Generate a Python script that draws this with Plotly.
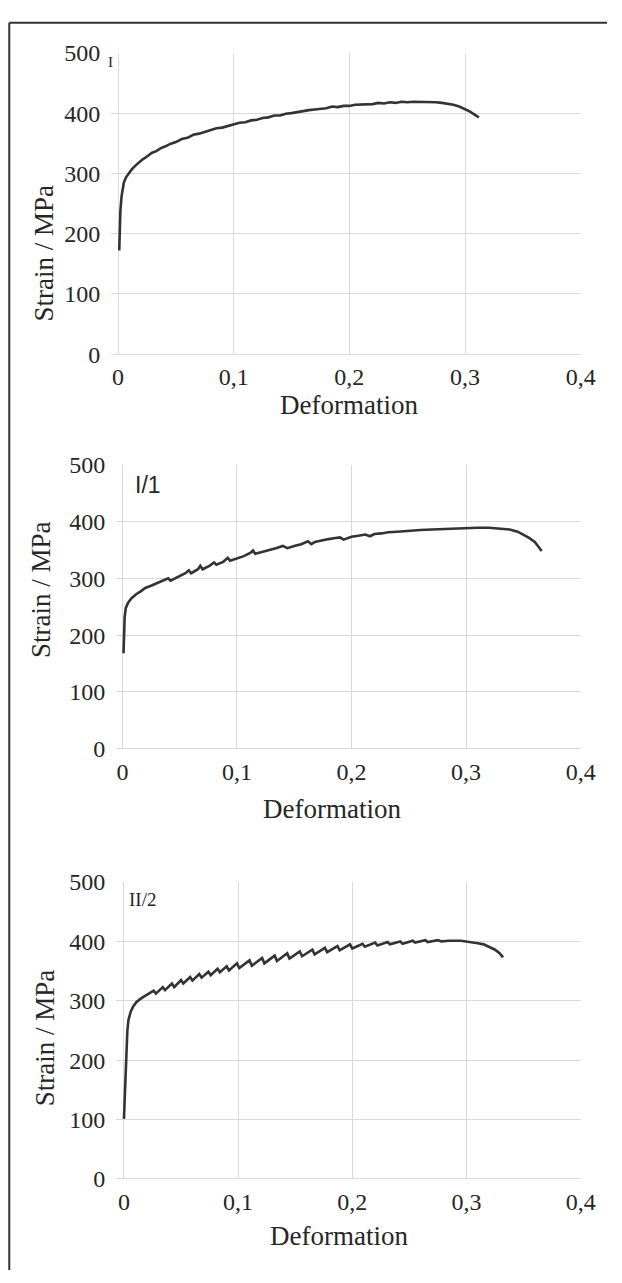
import plotly.graph_objects as go

W, H = 622, 1283

# ---------------- data ----------------
x_tick_vals = [0, 0.1, 0.2, 0.3, 0.4]
x_tick_text = ["0", "0,1", "0,2", "0,3", "0,4"]
y_tick_vals = [0, 100, 200, 300, 400, 500]

# Panel I
def_I = [0.001, 0.0015, 0.002, 0.003, 0.004, 0.005, 0.007, 0.009, 0.012, 0.015, 0.018, 0.021,
         0.025, 0.029, 0.033, 0.037, 0.041, 0.045, 0.050, 0.055, 0.060, 0.065, 0.070, 0.075,
         0.080, 0.085, 0.090, 0.095, 0.100, 0.105, 0.110, 0.115, 0.120, 0.125, 0.130, 0.135,
         0.140, 0.145, 0.150, 0.155, 0.160, 0.165, 0.170, 0.175, 0.180, 0.185, 0.190, 0.195,
         0.200, 0.205, 0.210, 0.215, 0.220, 0.225, 0.230, 0.235, 0.240, 0.245, 0.250, 0.255,
         0.260, 0.265, 0.270, 0.275, 0.280, 0.285, 0.290, 0.295, 0.300, 0.304, 0.308, 0.312]
str_I = [172, 205, 238, 262, 276, 285, 294, 300, 307, 313, 318, 323,
         328, 334, 337, 342, 345, 349, 352, 357, 359, 364, 366, 369,
         371, 375, 376, 379, 381, 384, 385, 388, 389, 392, 393, 396,
         396, 399, 400, 402, 403, 405, 406, 407, 408, 411, 410, 412,
         412, 414, 414, 415, 415, 417, 416, 418, 417, 419, 418, 419,
         419, 419, 418, 418, 417, 416, 414, 411, 407, 403, 398, 393]

# Panel I/1
def_I1 = [0.001, 0.0015, 0.002, 0.003, 0.005, 0.008, 0.012, 0.016, 0.020, 0.025, 0.030, 0.035,
          0.040, 0.042, 0.048, 0.055, 0.058, 0.060, 0.066, 0.068, 0.070, 0.076, 0.080, 0.082,
          0.088, 0.092, 0.094, 0.100, 0.106, 0.112, 0.114, 0.116, 0.122, 0.128, 0.134, 0.140,
          0.144, 0.150, 0.156, 0.162, 0.165, 0.168, 0.174, 0.180, 0.186, 0.190, 0.193, 0.200,
          0.206, 0.212, 0.216, 0.220, 0.226, 0.232, 0.240, 0.250, 0.260, 0.270, 0.280, 0.290,
          0.300, 0.310, 0.320, 0.330, 0.338, 0.345, 0.350, 0.355, 0.360, 0.363, 0.366]
str_I1 = [168, 200, 232, 248, 257, 265, 272, 277, 283, 287, 291, 295,
          300, 296, 302, 309, 314, 309, 316, 322, 316, 322, 328, 324,
          329, 336, 331, 335, 339, 345, 349, 343, 346, 350, 353, 357,
          353, 357, 360, 365, 360, 364, 367, 369, 371, 372, 368, 373,
          375, 377, 374, 378, 379, 381, 382, 384, 385, 386, 387, 388,
          389, 389, 389, 388, 386, 382, 377, 371, 364, 357, 348]

# Panel II/2
def_II2 = [0.000, 0.001, 0.002, 0.003, 0.004, 0.006, 0.008, 0.011, 0.015, 0.020,
           0.026, 0.028, 0.034, 0.036, 0.042, 0.044, 0.050, 0.052, 0.058, 0.060,
           0.066, 0.068, 0.074, 0.076, 0.082, 0.084, 0.090, 0.092, 0.099, 0.101,
           0.110, 0.112, 0.121, 0.123, 0.132, 0.134, 0.143, 0.145, 0.154, 0.156,
           0.165, 0.167, 0.176, 0.178, 0.187, 0.189, 0.198, 0.200, 0.209, 0.211,
           0.220, 0.222, 0.231, 0.233, 0.242, 0.244, 0.253, 0.255, 0.264, 0.266,
           0.275, 0.278, 0.285, 0.295, 0.300, 0.305, 0.310, 0.315, 0.320, 0.325,
           0.329, 0.332]
str_II2 = [101, 150, 210, 250, 268, 282, 290, 298, 304, 310,
           317, 312, 323, 318, 329, 323, 335, 329, 340, 334,
           345, 339, 349, 343, 354, 348, 358, 351, 363, 355,
           368, 359, 372, 363, 376, 367, 380, 371, 383, 375,
           386, 378, 389, 382, 392, 385, 395, 388, 396, 391,
           398, 393, 399, 395, 400, 396, 401, 398, 402, 399,
           402, 400, 401, 401, 400, 399, 397, 395, 391, 386,
           380, 373]

panels = [
    dict(x=def_I, y=str_I, label="I"),
    dict(x=def_I1, y=str_I1, label="I/1"),
    dict(x=def_II2, y=str_II2, label="II/2"),
]

# ---------------- layout helpers (pixel geometry) ----------------
def px_x(p):
    return p / W

def px_y(p):
    return 1 - p / H

geom = [
    dict(left=113.9, x0=121.0, right=595.0, top=40.7, bottom=348.3),
    dict(left=119.0, x0=125.4, right=595.0, top=461.0, bottom=751.0),
    dict(left=119.0, x0=127.0, right=595.0, top=887.0, bottom=1190.0),
]

GRID = "#d9d9d9"
TXT = "#262626"
SERIF = "Liberation Serif"

fig = go.Figure()
layout = dict(
    width=W, height=H,
    margin=dict(l=0, r=0, t=0, b=0),
    paper_bgcolor="white", plot_bgcolor="white",
    showlegend=False,
    annotations=[], shapes=[],
)

for i, (p, g) in enumerate(zip(panels, geom)):
    n = "" if i == 0 else str(i + 1)
    xa, ya = "x" + n, "y" + n
    fig.add_trace(go.Scatter(x=p["x"], y=p["y"], mode="lines",
                             line=dict(color="#333333", width=2.6),
                             xaxis=xa, yaxis=ya, hoverinfo="skip"))
    per_unit = (g["right"] - g["x0"]) / 0.4
    xmin = -(g["x0"] - g["left"]) / per_unit
    layout["xaxis" + n] = dict(
        domain=[px_x(g["left"]), px_x(g["right"])], range=[xmin, 0.4],
        anchor=ya, tickvals=x_tick_vals, ticktext=x_tick_text,
        showgrid=True, gridcolor=GRID, gridwidth=1,
        zeroline=True, zerolinecolor=GRID, zerolinewidth=1,
        showline=False, ticks="", ticklabelstandoff=6,
        tickfont=dict(family=SERIF, size=24, color=TXT),
    )
    layout["yaxis" + n] = dict(
        domain=[px_y(g["bottom"]), px_y(g["top"])], range=[0, 500],
        anchor=xa, tickvals=y_tick_vals,
        showgrid=True, gridcolor=GRID, gridwidth=1,
        zeroline=True, zerolinecolor=GRID, zerolinewidth=1,
        showline=False, ticks="", ticklabelstandoff=10,
        tickfont=dict(family=SERIF, size=24, color=TXT),
    )

# axis titles (as annotations, positioned as in the reference)
xt_pos = [(358, 400), (340, 812), (347, 1248)]
yt_pos = [(45.6, 245), (42, 588), (45.6, 1046)]
for (xp, yp) in xt_pos:
    layout["annotations"].append(dict(
        text="Deformation", xref="paper", yref="paper", x=px_x(xp), y=px_y(yp),
        xanchor="center", yanchor="middle", showarrow=False,
        font=dict(family=SERIF, size=27, color=TXT)))
for (xp, yp) in yt_pos:
    layout["annotations"].append(dict(
        text="Strain / MPa", xref="paper", yref="paper", x=px_x(xp), y=px_y(yp),
        xanchor="center", yanchor="middle", showarrow=False, textangle=-90,
        font=dict(family=SERIF, size=27, color=TXT)))

# panel labels
label_specs = [
    (113, 50, SERIF, 15),
    (152, 482, "Liberation Sans", 23),
    (146, 905, SERIF, 19),
]
for p, (xp, yp, fam, sz) in zip(panels, label_specs):
    layout["annotations"].append(dict(
        text=p["label"], xref="paper", yref="paper", x=px_x(xp), y=px_y(yp),
        xanchor="center", yanchor="middle", showarrow=False,
        font=dict(family=fam, size=sz, color=TXT)))

# outer frame (top and left edges)
layout["shapes"].append(dict(type="line", xref="paper", yref="paper",
                             x0=px_x(9.5), x1=1.0, y0=px_y(10), y1=px_y(10),
                             line=dict(color="#333333", width=2)))
layout["shapes"].append(dict(type="line", xref="paper", yref="paper",
                             x0=px_x(9.5), x1=px_x(9.5), y0=px_y(10), y1=0,
                             line=dict(color="#333333", width=2)))

fig.update_layout(**layout)
fig.write_html("out.html")
